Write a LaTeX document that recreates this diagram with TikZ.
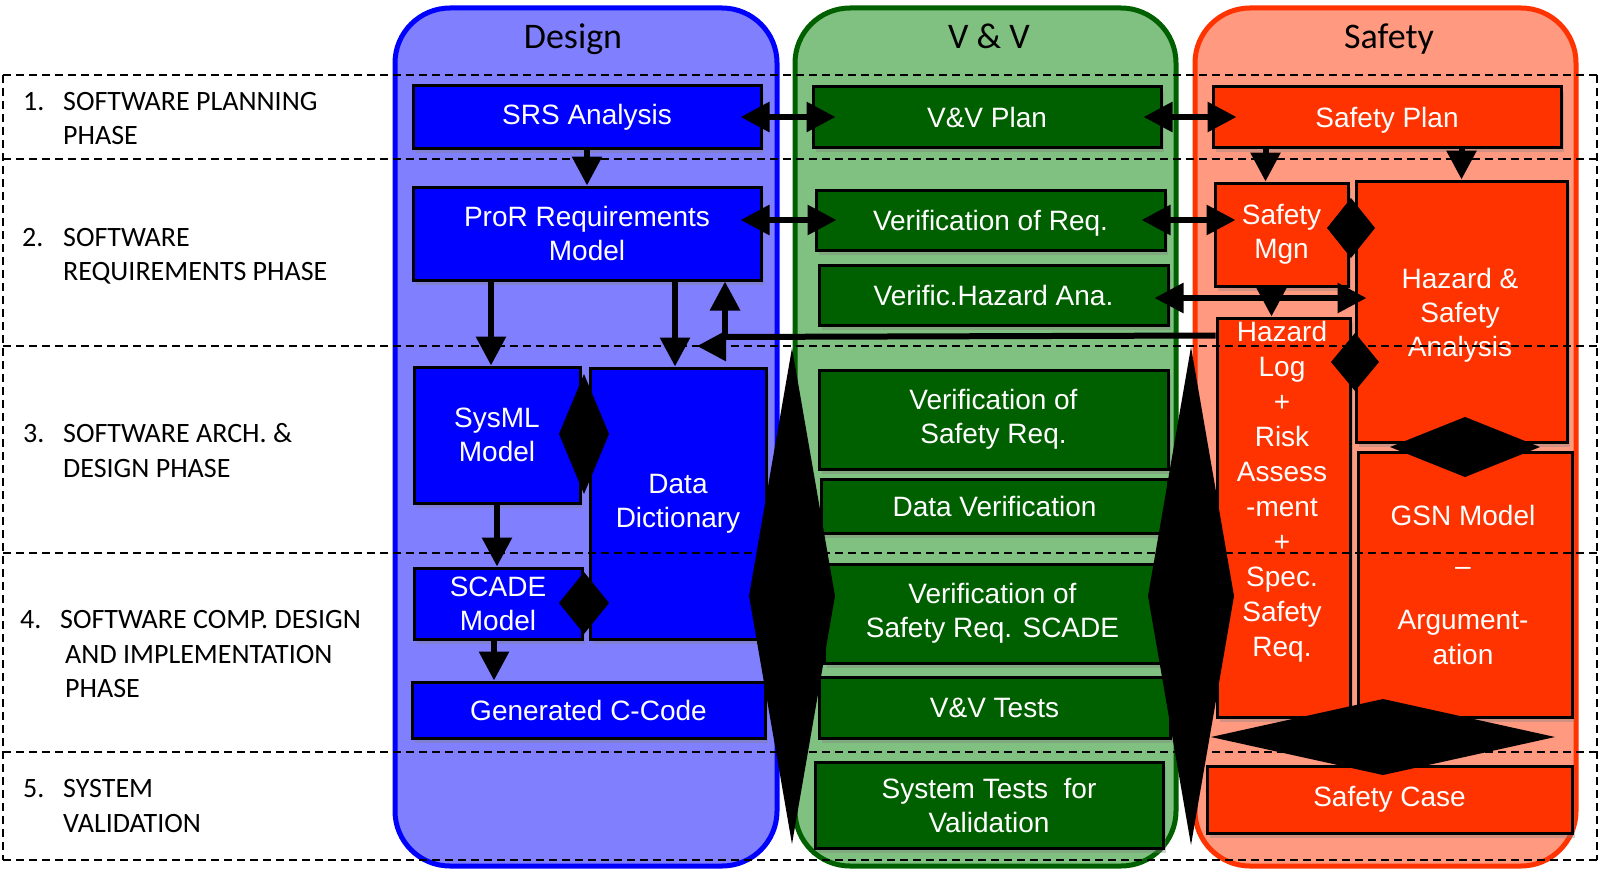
\documentclass[tikz,border=0pt]{standalone}
\usepackage{fontspec}
\setmainfont{Liberation Sans}
\newfontfamily\calib{Carlito}
\usetikzlibrary{arrows.meta,shadows,calc}
\definecolor{dfill}{RGB}{128,128,255}
\definecolor{dbox}{RGB}{0,0,255}
\definecolor{vfill}{RGB}{128,192,128}
\definecolor{vbox}{RGB}{0,96,0}
\definecolor{sfill}{RGB}{255,153,128}
\definecolor{sbox}{RGB}{255,51,0}
\newcommand\bx[6]{\node[box,#6,minimum width={(#4-#2)*1pt},minimum height={(#5-#3)*1pt}] (#1) at ({(#2+#4)/2},{(#3+#5)/2})}
\newcommand\dia[4]{\fill[black] ({#1-#3},#2) -- (#1,{#2-#4}) -- ({#1+#3},#2) -- (#1,{#2+#4}) -- cycle;}
\newcommand\lowr[1]{\raisebox{-3pt}[\height][\depth]{#1}}
\tikzset{
  box/.style={draw=black, line width=3pt, text=white, font=\fontsize{28}{34}\selectfont, align=center, inner sep=0pt,
    drop shadow={shadow xshift=3pt, shadow yshift=-5pt, opacity=0.35}},
  wtxt/.style={text=white, font=\fontsize{28}{35}\selectfont, align=center, inner sep=0pt},
  column/.style={line width=5pt, rounded corners=55pt},
  coltitle/.style={font=\calib\fontsize{36}{40}\selectfont, anchor=base, inner sep=0pt},
  lab/.style={font=\calib\fontsize{28}{34}\selectfont, anchor=base west, inner sep=0pt},
  phase/.style={line width=2pt, dash pattern=on 8pt off 5pt},
  arr/.style={line width=6pt, -{Triangle[length=29pt,width=29pt]}},
  darr/.style={line width=6pt, {Triangle[length=29pt,width=29pt]}-{Triangle[length=29pt,width=29pt]}},
  plainline/.style={line width=6pt},
}
\begin{document}
\begin{tikzpicture}[x=1pt,y=-1pt]
\useasboundingbox (0,0) rectangle (1600,872);
% columns
\draw[column, draw=dbox, fill=dfill] (395,8) rectangle (777,866);
\draw[column, draw=vbox, fill=vfill] (795,8) rectangle (1176,866);
\draw[column, draw=sbox, fill=sfill] (1195,8) rectangle (1576,866);
\node[coltitle] (tdes) at (573,49) {Design};
\node[coltitle] (tvv) at (989,49) {V \& V};
\node[coltitle] (tsaf) at (1389,49) {Safety};
% phase labels
\node[lab] (p1n) at (23,111) {1.};
\node[lab] (p1a) at (63,111) {SOFTWARE PLANNING};
\node[lab] (p1b) at (63,145) {PHASE};
\node[lab] (p2n) at (22,246) {2.};
\node[lab] (p2a) at (63,246) {SOFTWARE};
\node[lab] (p2b) at (63,280) {REQUIREMENTS PHASE};
\node[lab] (p3n) at (23,442) {3.};
\node[lab] (p3a) at (63,442) {SOFTWARE ARCH. \&};
\node[lab] (p3b) at (63,477) {DESIGN PHASE};
\node[lab] (p4n) at (20,628) {4.};
\node[lab] (p4a) at (60,628) {SOFTWARE COMP. DESIGN};
\node[lab] (p4b) at (65,663) {AND IMPLEMENTATION};
\node[lab] (p4c) at (65,697) {PHASE};
\node[lab] (p5n) at (23,797) {5.};
\node[lab] (p5a) at (63,797) {SYSTEM};
\node[lab] (p5b) at (63,832) {VALIDATION};
% design boxes
\bx{srs}{413}{86}{761}{148}{fill=dbox} {SRS Analysis};
\bx{pror}{413}{187}{761}{280}{fill=dbox} {ProR Requirements\\Model};
\bx{sysml}{414}{367}{580}{503}{fill=dbox} {SysML\\Model};
\bx{dd}{590}{368}{766}{639}{fill=dbox} {Data\\Dictionary};
\bx{scade}{414}{568}{582}{639}{fill=dbox} {SCADE\\Model};
\bx{ccode}{412}{682}{765}{738}{fill=dbox} {Generated C-Code};
% V&V boxes
\bx{vvplan}{813}{87}{1161}{147}{fill=vbox} {V\&V Plan};
\bx{vreq}{816}{190}{1165}{250}{fill=vbox} {\lowr{Verification of Req.}};
\bx{vha}{819}{265}{1168}{325}{fill=vbox} {Verific.Hazard Ana.};
\bx{vsr}{819}{370}{1168}{469}{fill=vbox} {Verification of\\Safety Req.};
\bx{dver}{821}{479}{1168}{533}{fill=vbox} {Data Verification};
\bx{vsrs}{824}{564}{1161}{663}{fill=vbox} {Verification of\\Safety Req. SCADE};
\bx{vvt}{819}{677}{1170}{738}{fill=vbox} {V\&V Tests};
\bx{syst}{815}{762}{1163}{848}{fill=vbox} {System Tests\ \ for\\Validation};
% safety boxes
\bx{splan}{1213}{87}{1561}{147}{fill=sbox} {\lowr{Safety Plan}};
\bx{smgn}{1215}{183}{1348}{286}{fill=sbox} {Safety\\Mgn};
\bx{hsa}{1356}{181}{1567}{442}{fill=sbox} {};
\bx{hlog}{1217}{318}{1350}{717}{fill=sbox} {};
\bx{gsn}{1358}{452}{1572}{717}{fill=sbox} {};
\bx{scase}{1207}{766}{1572}{833}{fill=sbox} {Safety Case};
\node[wtxt, font=\fontsize{28}{34}\selectfont] (hsat) at (1460,315) {Hazard \&\\Safety\\Analysis};
\node[wtxt] (hlogt) at (1282,492) {Hazard\\Log\\+\\Risk\\Assess\\-ment\\+\\Spec.\\Safety\\Req.};
\node[wtxt] (gsna) at (1463,515) {GSN Model};
\node[wtxt] (gsnb) at (1463,571) {–};
\node[wtxt] (gsnc) at (1463,637) {Argument-\\ation};
% connectors
\draw[darr, shorten <=-22pt, shorten >=-24pt] (srs.east) -- (vvplan.west);
\draw[darr, shorten <=-19pt, shorten >=-25pt] (vvplan.east) -- (splan.west);
\draw[darr, shorten <=-22pt, shorten >=-22pt] (pror.east |- vreq.west) -- (vreq.west);
\draw[darr, shorten <=-25pt, shorten >=-22pt] (vreq.east) -- (smgn.west |- vreq.east);
\draw[darr, shorten <=-15pt, shorten >=-12pt] ($(vha.east)+(0,3)$) -- ($(hsa.west |- vha.east)+(0,3)$);
\draw[arr] (srs.south) -- (pror.north);
\draw[arr] ($(pror.south -| sysml.north)+(-6,0)$) -- ($(sysml.north)+(-6,0)$);
\draw[arr] ($(pror.south -| dd.north)+(-3,0)$) -- ($(dd.north)+(-3,0)$);
\coordinate (jn) at (725,337);
\coordinate (ja) at (726,346);
\coordinate (jt) at (697,346);
\draw[plainline] ([yshift=-19pt]hlog.north west) -- ($(jn)+(-3,0)$);
\draw[arr] (jn) -- (jn |- pror.south);
\draw[arr] (ja) -- (jt);
\draw[arr] (sysml.south) -- (sysml.south |- scade.north);
\draw[arr] ($(scade.south)+(-4,0)$) -- ($(scade.south |- ccode.north)+(-4,0)$);
\draw[arr] ($(smgn.north |- splan.south)+(-16,0)$) -- ($(smgn.north)+(-16,0)$);
\draw[arr] (hsa.north |- splan.south) -- (hsa.north);
\draw[arr] ($(smgn.south)+(-10,0)$) -- ($(smgn.south |- hlog.north)+(-10,0)$);
% diamonds
\dia{584}{434}{25}{60}
\dia{584}{603}{25}{31}
\dia{792}{596}{43}{248}
\dia{1191}{596}{43}{249}
\dia{1351}{228}{24}{30}
\dia{1355}{362}{24}{29}
\dia{1465}{447}{75}{30}
\dia{1383}{737}{172}{38}
% phases
\foreach \yy in {75,159,346,553,752,860} {\draw[phase] (3,\yy) -- (1597,\yy);}
\draw[phase] (3,75) -- (3,860);
\draw[phase] (1597,75) -- (1597,860);
\end{tikzpicture}
\end{document}
